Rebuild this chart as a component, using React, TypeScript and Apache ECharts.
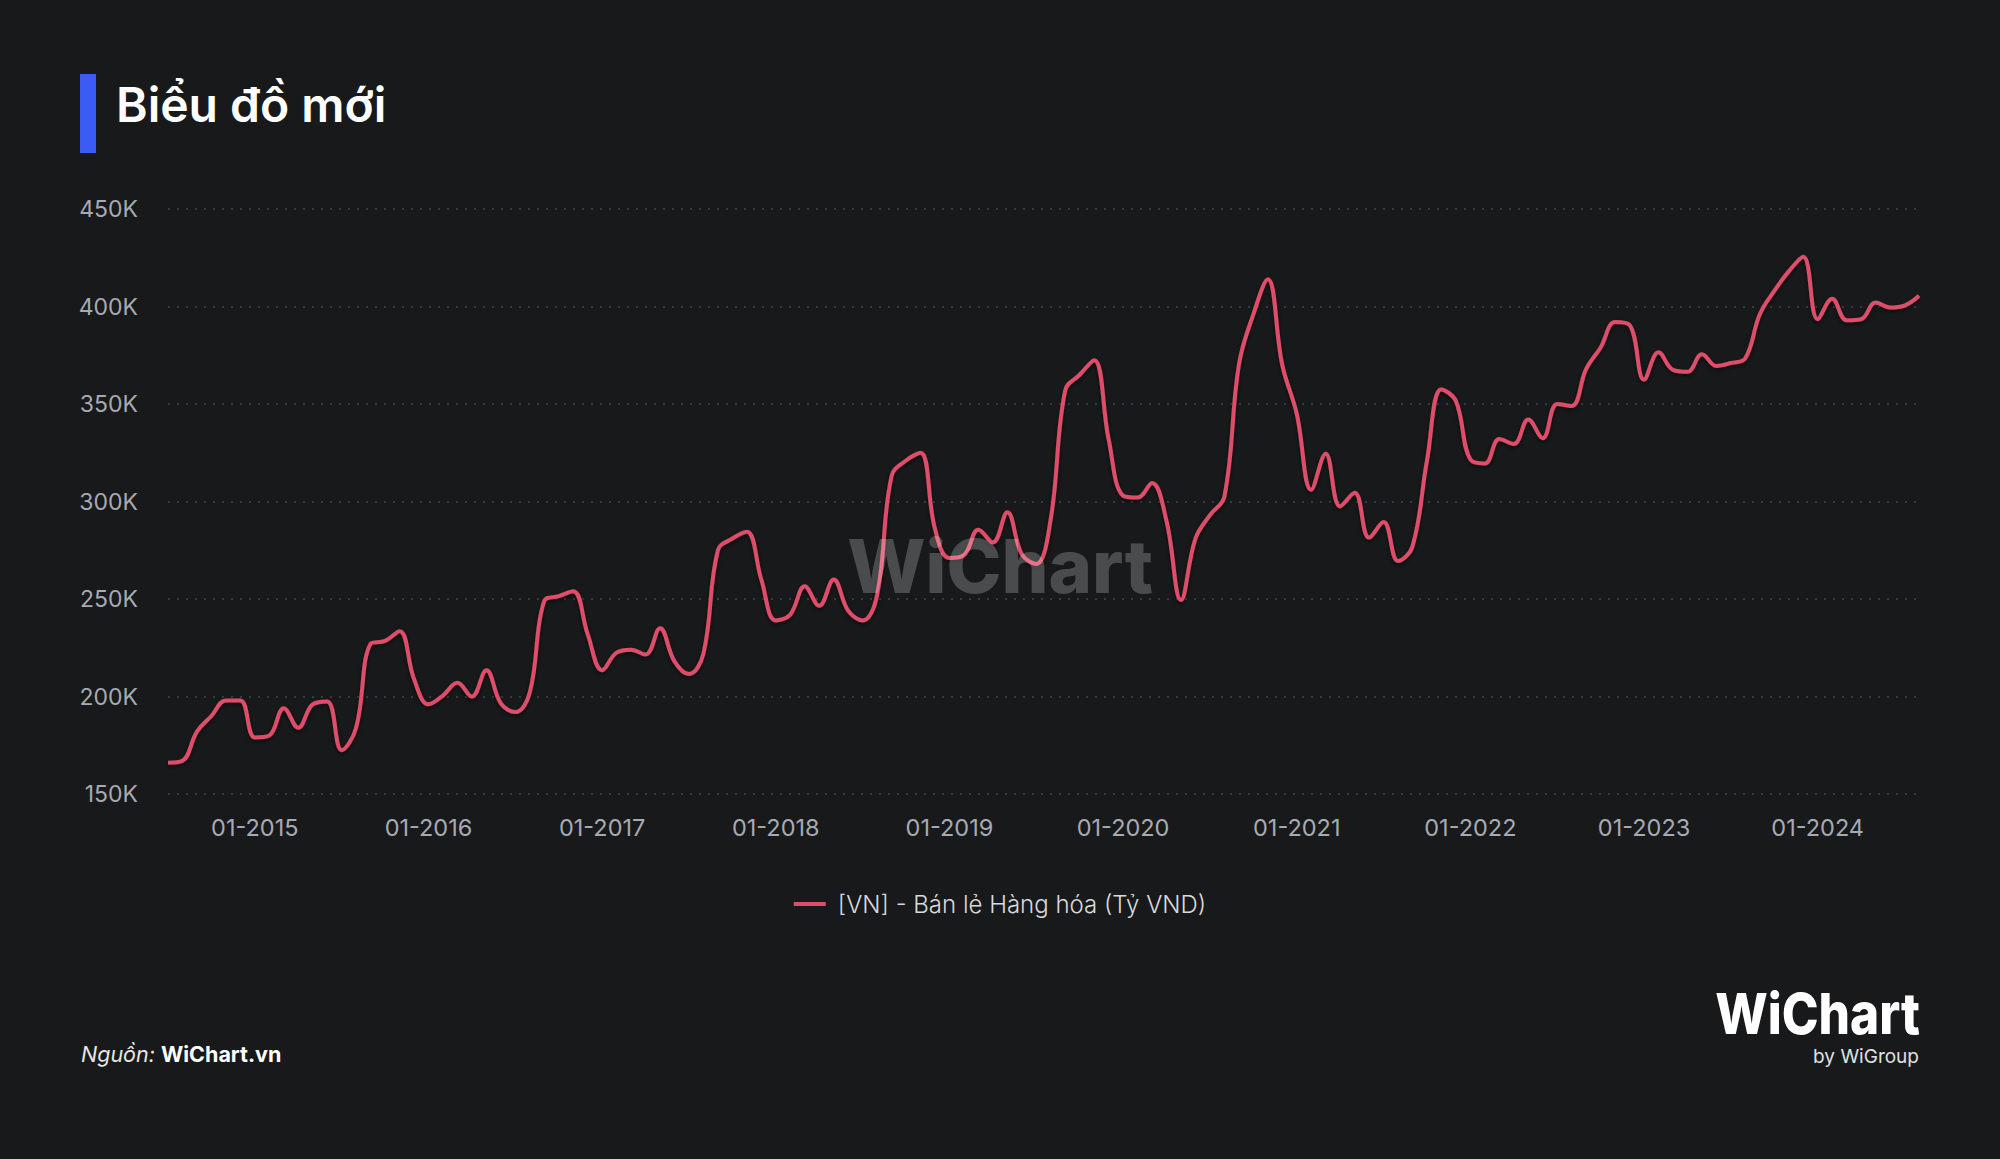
import React, { useEffect, useRef } from "react";
import * as echarts from "echarts";

const START_YEAR = 2014;
const START_MONTH = 7;
const SERIES_NAME = "[VN] - Bán lẻ Hàng hóa (Tỷ VND)";
const TITLE = "Biểu đồ mới";

// Values in thousand billion VND ("K" units), monthly 07-2014 .. 08-2024
const valuesK: number[] = [
  166, 167, 182, 190, 198, 198,
  179, 180, 194, 184, 196, 197.5, 172.5, 184, 227, 228.5, 233.5, 209,
  196, 200.5, 207, 200, 213.5, 196.5, 192, 202, 249, 251.5, 254, 232,
  213.5, 222.5, 224, 221.5, 235, 218, 211.5, 222, 275, 281, 284.5, 260,
  239, 242, 256.5, 246.5, 260, 244, 239, 252, 313, 321, 325, 286,
  271, 272.5, 285.5, 279, 294.5, 273, 268, 291, 357, 365, 372.5, 332,
  303, 302, 309.5, 290, 249.5, 281, 293, 302.5, 370, 396, 414, 370,
  345, 306, 324.5, 297.5, 304.5, 281.5, 289.5, 269.5, 277, 321, 357.5, 351.5,
  321.5, 319.5, 332, 329.5, 342, 332.5, 350, 349, 368, 379, 392, 390.5,
  362.5, 376.5, 367.5, 366.5, 375.5, 369.5, 371, 373.5, 396, 408, 418, 425.5,
  393.5, 404, 393, 393.5, 402, 399.5, 400.5, 405.5,
];

const categories: string[] = valuesK.map((_, i) => {
  const m0 = START_MONTH - 1 + i;
  const y = START_YEAR + Math.floor(m0 / 12);
  const m = (m0 % 12) + 1;
  return (m < 10 ? "0" + m : "" + m) + "-" + y;
});

const seriesValues: number[] = valuesK.map((v) => v * 1000);

const Y_MIN = 150000;
const Y_MAX = 450000;
const Y_STEP = 50000;

const FONT = "Inter, 'Noto Sans', sans-serif";

export default function App() {
  const ref = useRef<HTMLDivElement>(null);

  useEffect(() => {
    if (!ref.current) return;
    const chart = echarts.init(ref.current, null, { renderer: "svg" });
    chart.setOption({
      animation: false,
      backgroundColor: "#18191b",
      textStyle: { fontFamily: FONT },
      grid: { left: 168, right: 81, top: 209, bottom: 365, containLabel: false },
      legend: {
        show: true,
        left: "center",
        top: 887,
        icon: "rect",
        itemWidth: 32,
        itemHeight: 4,
        textStyle: {
          color: "#d9dadd",
          fontSize: 24,
          fontWeight: 300,
          fontFamily: FONT,
          padding: [0, 0, 0, 7],
        },
        data: [SERIES_NAME],
      },
      xAxis: {
        type: "category",
        data: categories,
        boundaryGap: false,
        axisLine: { show: false },
        axisTick: { show: false },
        splitLine: { show: false },
        axisLabel: {
          color: "#a6aab2",
          fontSize: 23.5,
          fontFamily: FONT,
          margin: 21,
          interval: (index: number, value: string) => value.startsWith("01-"),
        },
      },
      yAxis: {
        type: "value",
        min: Y_MIN,
        max: Y_MAX,
        interval: Y_STEP,
        axisLine: { show: false },
        axisTick: { show: false },
        axisLabel: {
          color: "#a6aab2",
          fontSize: 23,
          fontFamily: FONT,
          margin: 30,
          formatter: (v: number) => v / 1000 + "K",
        },
        splitLine: {
          show: true,
          lineStyle: { color: "#44474d", width: 1.5, type: [2, 7] },
        },
      },
      series: [
        {
          name: SERIES_NAME,
          type: "line",
          data: seriesValues,
          smooth: 0.4,
          showSymbol: false,
          symbol: "none",
          itemStyle: { color: "#de4d69" },
          lineStyle: {
            color: "#de4d69",
            width: 4,
            shadowColor: "rgba(0,0,0,0.55)",
            shadowBlur: 4,
            shadowOffsetY: 2,
          },
          z: 2,
        },
      ],
      graphic: [
        {
          type: "rect",
          shape: { x: 80, y: 74, width: 16, height: 79 },
          style: { fill: "#3b5bf6" },
        },
        {
          type: "text",
          x: 116,
          y: 104,
          style: {
            text: TITLE,
            fill: "#ffffff",
            font: "600 48px " + FONT,
            verticalAlign: "middle",
            align: "left",
          },
        },
        {
          type: "text",
          x: 1000,
          y: 566,
          z: 100,
          style: {
            text: "WiChart",
            fill: "rgba(255,255,255,0.22)",
            font: "800 74px " + FONT,
            verticalAlign: "middle",
            align: "center",
          },
        },
        {
          type: "text",
          x: 81,
          y: 1054,
          style: {
            text: "{i|Nguồn: }{b|WiChart.vn}",
            rich: {
              i: { fill: "#e6e6e6", font: "italic 400 21.5px " + FONT },
              b: { fill: "#ffffff", font: "700 21.5px " + FONT },
            },
            verticalAlign: "middle",
            align: "left",
          },
        },
        {
          type: "text",
          x: 1920,
          y: 1013,
          scaleX: 0.87,
          style: {
            text: "WiChart",
            fill: "#ffffff",
            font: "800 57px " + FONT,
            verticalAlign: "middle",
            align: "right",
          },
        },
        {
          type: "text",
          x: 1919,
          y: 1056,
          style: {
            text: "by WiGroup",
            fill: "#e0e0e0",
            font: "400 19px " + FONT,
            verticalAlign: "middle",
            align: "right",
          },
        },
      ],
    });
    return () => chart.dispose();
  }, []);

  return (
    <div
      ref={ref}
      style={{ position: "absolute", left: 0, top: 0, width: 2000, height: 1159 }}
    />
  );
}
